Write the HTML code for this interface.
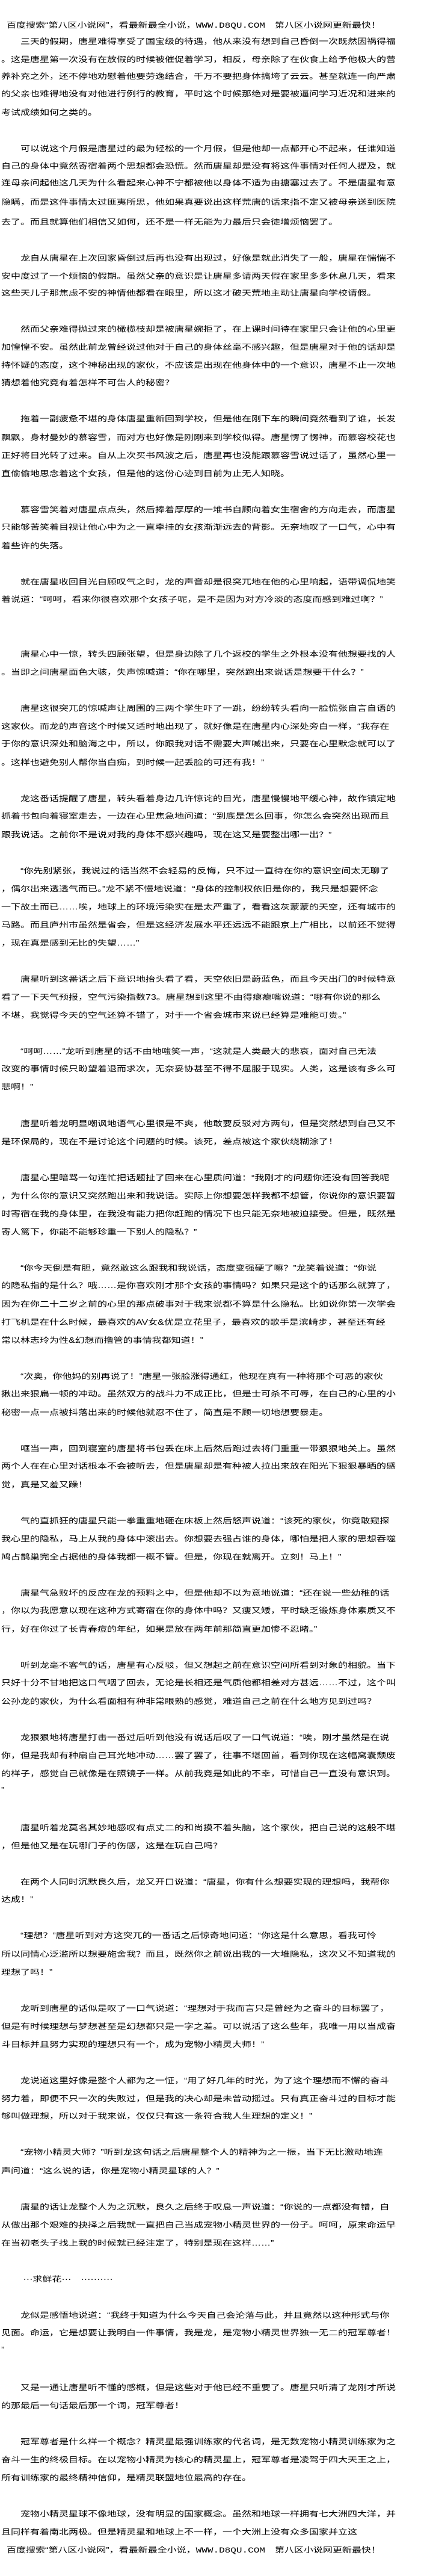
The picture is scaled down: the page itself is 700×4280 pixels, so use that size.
<!DOCTYPE html>
<html lang="zh-CN"><head><meta charset="utf-8">
<style>
html,body{margin:0;padding:0;background:#fff;}
body{width:700px;height:4280px;position:relative;overflow:hidden;}
.l{position:absolute;left:2px;height:30px;line-height:30px;font-size:16px;color:#000;white-space:nowrap;
font-family:"Liberation Sans","Noto Sans CJK SC","WenQuanYi Zen Hei",sans-serif;transform:scaleY(0.78);transform-origin:0 50%;}
.h{left:11px;}
.m{font-family:"Liberation Mono",monospace;}
</style></head><body>
<div class="l h" style="top:28px">百度搜索“第八区小说网”，看最新最全小说，<span class="m">WWW.D8QU.COM</span>　第八区小说网更新最快！</div>
<div class="l" style="top:55px">　　三天的假期，唐星难得享受了国宝级的待遇，他从来没有想到自己昏倒一次既然因祸得福</div>
<div class="l" style="top:85px">。这是唐星第一次没有在放假的时候被催促着学习，相反，母亲除了在伙食上给予他极大的营</div>
<div class="l" style="top:113px">养补充之外，还不停地劝慰着他要劳逸结合，千万不要把身体搞垮了云云。甚至就连一向严肃</div>
<div class="l" style="top:142px">的父亲也难得地没有对他进行例行的教育，平时这个时候那绝对是要被逼问学习近况和进来的</div>
<div class="l" style="top:173px">考试成绩如何之类的。</div>
<div class="l" style="top:233px">　　可以说这个月假是唐星过的最为轻松的一个月假，但是他却一点都开心不起来，任谁知道</div>
<div class="l" style="top:262px">自己的身体中竟然寄宿着两个思想都会恐慌。然而唐星却是没有将这件事情对任何人提及，就</div>
<div class="l" style="top:290px">连母亲问起他这几天为什么看起来心神不宁都被他以身体不适为由搪塞过去了。不是唐星有意</div>
<div class="l" style="top:322px">隐瞒，而是这件事情太过匪夷所思，他如果真要说出这样荒唐的话来指不定又被母亲送到医院</div>
<div class="l" style="top:355px">去了。而且就算他们相信又如何，还不是一样无能为力最后只会徒增烦恼罢了。</div>
<div class="l" style="top:415px">　　龙自从唐星在上次回家昏倒过后再也没有出现过，好像是就此消失了一般，唐星在惴惴不</div>
<div class="l" style="top:445px">安中度过了一个烦恼的假期。虽然父亲的意识是让唐星多请两天假在家里多多休息几天，看来</div>
<div class="l" style="top:473px">这些天儿子那焦虑不安的神情他都看在眼里，所以这才破天荒地主动让唐星向学校请假。</div>
<div class="l" style="top:533px">　　然而父亲难得抛过来的橄榄枝却是被唐星婉拒了，在上课时间待在家里只会让他的心里更</div>
<div class="l" style="top:563px">加惶惶不安。虽然此前龙曾经说过他对于自己的身体丝毫不感兴趣，但是唐星对于他的话却是</div>
<div class="l" style="top:593px">持怀疑的态度，这个神秘出现的家伙，不应该是出现在他身体中的一个意识，唐星不止一次地</div>
<div class="l" style="top:622px">猜想着他究竟有着怎样不可告人的秘密？</div>
<div class="l" style="top:682px">　　拖着一副疲惫不堪的身体唐星重新回到学校，但是他在刚下车的瞬间竟然看到了谁，长发</div>
<div class="l" style="top:713px">飘飘，身材曼妙的慕容雪，而对方也好像是刚刚来到学校似得。唐星愣了愣神，而慕容校花也</div>
<div class="l" style="top:743px">正好将目光转了过来。自从上次买书风波之后，唐星再也没能跟慕容雪说过话了，虽然心里一</div>
<div class="l" style="top:773px">直偷偷地思念着这个女孩，但是他的这份心迹到目前为止无人知晓。</div>
<div class="l" style="top:833px">　　慕容雪笑着对唐星点点头，然后捧着厚厚的一堆书自顾向着女生宿舍的方向走去，而唐星</div>
<div class="l" style="top:862px">只能够苦笑着目视让他心中为之一直牵挂的女孩渐渐远去的背影。无奈地叹了一口气，心中有</div>
<div class="l" style="top:893px">着些许的失落。</div>
<div class="l" style="top:953px">　　就在唐星收回目光自顾叹气之时，龙的声音却是很突兀地在他的心里响起，语带调侃地笑</div>
<div class="l" style="top:982px">着说道：“呵呵，看来你很喜欢那个女孩子呢，是不是因为对方冷淡的态度而感到难过啊？”</div>
<div class="l" style="top:1073px">　　唐星心中一惊，转头四顾张望，但是身边除了几个返校的学生之外根本没有他想要找的人</div>
<div class="l" style="top:1103px">。当即之间唐星面色大骇，失声惊喊道：“你在哪里，突然跑出来说话是想要干什么？”</div>
<div class="l" style="top:1163px">　　唐星这很突兀的惊喊声让周围的三两个学生吓了一跳，纷纷转头看向一脸慌张自言自语的</div>
<div class="l" style="top:1193px">这家伙。而龙的声音这个时候又适时地出现了，就好像是在唐星内心深处旁白一样，“我存在</div>
<div class="l" style="top:1222px">于你的意识深处和脑海之中，所以，你跟我对话不需要大声喊出来，只要在心里默念就可以了</div>
<div class="l" style="top:1253px">。这样也避免别人帮你当白痴，到时候一起丢脸的可还有我！”</div>
<div class="l" style="top:1313px">　　龙这番话提醒了唐星，转头看着身边几许惊诧的目光，唐星慢慢地平缓心神，故作镇定地</div>
<div class="l" style="top:1342px">抓着书包向着寝室走去，一边在心里焦急地问道：“到底是怎么回事，你怎么会突然出现而且</div>
<div class="l" style="top:1373px">跟我说话。之前你不是说对我的身体不感兴趣吗，现在这又是要整出哪一出？”</div>
<div class="l" style="top:1433px">　　“你先别紧张，我说过的话当然不会轻易的反悔，只不过一直待在你的意识空间太无聊了</div>
<div class="l" style="top:1463px">，偶尔出来透透气而已。”龙不紧不慢地说道：“身体的控制权依旧是你的，我只是想要怀念</div>
<div class="l" style="top:1493px">一下故土而已……唉，地球上的环境污染实在是太严重了，看看这灰蒙蒙的天空，还有城市的</div>
<div class="l" style="top:1523px">马路。而且庐州市虽然是省会，但是这经济发展水平还远远不能跟京上广相比，以前还不觉得</div>
<div class="l" style="top:1553px">，现在真是感到无比的失望……”</div>
<div class="l" style="top:1613px">　　唐星听到这番话之后下意识地抬头看了看，天空依旧是蔚蓝色，而且今天出门的时候特意</div>
<div class="l" style="top:1643px">看了一下天气预报，空气污染指数73。唐星想到这里不由得瘪瘪嘴说道：“哪有你说的那么</div>
<div class="l" style="top:1673px">不堪，我觉得今天的空气还算不错了，对于一个省会城市来说已经算是难能可贵。”</div>
<div class="l" style="top:1733px">　　“呵呵……”龙听到唐星的话不由地嗤笑一声，“这就是人类最大的悲哀，面对自己无法</div>
<div class="l" style="top:1762px">改变的事情时候只盼望着退而求次，无奈妥协甚至不得不屈服于现实。人类，这是该有多么可</div>
<div class="l" style="top:1792px">悲啊！”</div>
<div class="l" style="top:1853px">　　唐星听着龙明显嘲讽地语气心里很是不爽，他敢要反驳对方两句，但是突然想到自己又不</div>
<div class="l" style="top:1883px">是环保局的，现在不是讨论这个问题的时候。该死，差点被这个家伙绕糊涂了！</div>
<div class="l" style="top:1943px">　　唐星心里暗骂一句连忙把话题扯了回来在心里质问道：“我刚才的问题你还没有回答我呢</div>
<div class="l" style="top:1973px">，为什么你的意识又突然跑出来和我说话。实际上你想要怎样我都不想管，你说你的意识要暂</div>
<div class="l" style="top:2003px">时寄宿在我的身体里，在我没有能力把你赶跑的情况下也只能无奈地被迫接受。但是，既然是</div>
<div class="l" style="top:2033px">寄人篱下，你能不能够珍重一下别人的隐私？”</div>
<div class="l" style="top:2093px">　　“你今天倒是有胆，竟然敢这么跟我和我说话，态度变强硬了嘛？”龙笑着说道：“你说</div>
<div class="l" style="top:2122px">的隐私指的是什么？哦……是你喜欢刚才那个女孩的事情吗？如果只是这个的话那么就算了，</div>
<div class="l" style="top:2153px">因为在你二十二岁之前的心里的那点破事对于我来说都不算是什么隐私。比如说你第一次学会</div>
<div class="l" style="top:2183px">打飞机是在什么时候，最喜欢的AV女&amp;优是立花里子，最喜欢的歌手是滨崎步，甚至还有经</div>
<div class="l" style="top:2213px">常以林志玲为性&amp;幻想而撸管的事情我都知道！”</div>
<div class="l" style="top:2273px">　　“次奥，你他妈的别再说了！”唐星一张脸涨得通红，他现在真有一种将那个可恶的家伙</div>
<div class="l" style="top:2302px">揪出来狠扁一顿的冲动。虽然双方的战斗力不成正比，但是士可杀不可辱，在自己的心里的小</div>
<div class="l" style="top:2333px">秘密一点一点被抖落出来的时候他就忍不住了，简直是不顾一切地想要暴走。</div>
<div class="l" style="top:2393px">　　哐当一声，回到寝室的唐星将书包丢在床上后然后跑过去将门重重一带狠狠地关上。虽然</div>
<div class="l" style="top:2422px">两个人在在心里对话根本不会被听去，但是唐星却是有种被人拉出来放在阳光下狠狠暴晒的感</div>
<div class="l" style="top:2453px">觉，真是又羞又躁！</div>
<div class="l" style="top:2513px">　　气的直抓狂的唐星只能一拳重重地砸在床板上然后怒声说道：“该死的家伙，你竟敢窥探</div>
<div class="l" style="top:2543px">我心里的隐私，马上从我的身体中滚出去。你想要去强占谁的身体，哪怕是把人家的思想吞噬</div>
<div class="l" style="top:2573px">鸠占鹊巢完全占据他的身体我都一概不管。但是，你现在就离开。立刻！马上！”</div>
<div class="l" style="top:2633px">　　唐星气急败坏的反应在龙的预料之中，但是他却不以为意地说道：“还在说一些幼稚的话</div>
<div class="l" style="top:2662px">，你以为我愿意以现在这种方式寄宿在你的身体中吗？又瘦又矮，平时缺乏锻炼身体素质又不</div>
<div class="l" style="top:2693px">行，好在你过了长青春痘的年纪，如果是放在两年前那简直更加惨不忍睹。”</div>
<div class="l" style="top:2753px">　　听到龙毫不客气的话，唐星有心反驳，但又想起之前在意识空间所看到对象的相貌。当下</div>
<div class="l" style="top:2782px">只好十分不甘地把这口气咽了回去，无论是长相还是气质他都相差对方甚远……不过，这个叫</div>
<div class="l" style="top:2813px">公孙龙的家伙，为什么看面相有种非常眼熟的感觉，难道自己之前在什么地方见到过吗？</div>
<div class="l" style="top:2873px">　　龙狠狠地将唐星打击一番过后听到他没有说话后叹了一口气说道：“唉，刚才虽然是在说</div>
<div class="l" style="top:2903px">你，但是我却有种扇自己耳光地冲动……罢了罢了，往事不堪回首，看到你现在这幅窝囊颓废</div>
<div class="l" style="top:2933px">的样子，感觉自己就像是在照镜子一样。从前我竟是如此的不幸，可惜自己一直没有意识到。</div>
<div class="l" style="top:2960px">”</div>
<div class="l" style="top:3023px">　　唐星听着龙莫名其妙地感叹有点丈二的和尚摸不着头脑，这个家伙，把自己说的这般不堪</div>
<div class="l" style="top:3053px">，但是他又是在玩哪门子的伤感，这是在玩自己吗？</div>
<div class="l" style="top:3113px">　　在两个人同时沉默良久后，龙又开口说道：“唐星，你有什么想要实现的理想吗，我帮你</div>
<div class="l" style="top:3142px">达成！”</div>
<div class="l" style="top:3202px">　　“理想？”唐星听到对方这突兀的一番话之后惊奇地问道：“你这是什么意思，看我可怜</div>
<div class="l" style="top:3233px">所以同情心泛滥所以想要施舍我？而且，既然你之前说出我的一大堆隐私，这次又不知道我的</div>
<div class="l" style="top:3263px">理想了吗！”</div>
<div class="l" style="top:3323px">　　龙听到唐星的话似是叹了一口气说道：“理想对于我而言只是曾经为之奋斗的目标罢了，</div>
<div class="l" style="top:3353px">但是有时候理想与梦想甚至是幻想都只是一字之差。可以说活了这么些年，我唯一用以当成奋</div>
<div class="l" style="top:3383px">斗目标并且努力实现的理想只有一个，成为宠物小精灵大师！”</div>
<div class="l" style="top:3443px">　　龙说道这里好像是整个人都为之一怔，“用了好几年的时光，为了这个理想而不懈的奋斗</div>
<div class="l" style="top:3473px">努力着，即便不只一次的失败过，但是我的决心却是未曾动摇过。只有真正奋斗过的目标才能</div>
<div class="l" style="top:3502px">够叫做理想，所以对于我来说，仅仅只有这一条符合我人生理想的定义！”</div>
<div class="l" style="top:3562px">　　“宠物小精灵大师？”听到龙这句话之后唐星整个人的精神为之一振，当下无比激动地连</div>
<div class="l" style="top:3593px">声问道：“这么说的话，你是宠物小精灵星球的人？”</div>
<div class="l" style="top:3653px">　　唐星的话让龙整个人为之沉默，良久之后终于叹息一声说道：“你说的一点都没有错，自</div>
<div class="l" style="top:3683px">从做出那个艰难的抉择之后我就一直把自己当成宠物小精灵世界的一份子。呵呵，原来命运早</div>
<div class="l" style="top:3713px">在当初老头子找上我的时候就已经注定了，特别是现在这样……”</div>
<div class="l" style="top:3773px">　　 ···求鲜花···　··········</div>
<div class="l" style="top:3833px">　　龙似是感悟地说道：“我终于知道为什么今天自己会沦落与此，并且竟然以这种形式与你</div>
<div class="l" style="top:3862px">见面。命运，它是想要让我明白一件事情，我是龙，是宠物小精灵世界独一无二的冠军尊者！</div>
<div class="l" style="top:3890px">”</div>
<div class="l" style="top:3953px">　　又是一通让唐星听不懂的感概，但是这些对于他已经不重要了。唐星只听清了龙刚才所说</div>
<div class="l" style="top:3983px">的那最后一句话最后那一个词，冠军尊者！</div>
<div class="l" style="top:4043px">　　冠军尊者是什么样一个概念？精灵星最强训练家的代名词，是无数宠物小精灵训练家为之</div>
<div class="l" style="top:4073px">奋斗一生的终极目标。在以宠物小精灵为核心的精灵星上，冠军尊者是凌驾于四大天王之上，</div>
<div class="l" style="top:4103px">所有训练家的最终精神信仰，是精灵联盟地位最高的存在。</div>
<div class="l" style="top:4163px">　　宠物小精灵星球不像地球，没有明显的国家概念。虽然和地球一样拥有七大洲四大洋，并</div>
<div class="l" style="top:4193px">且同样有着南北两极。但是精灵星和地球上不一样，一个大洲上没有众多国家并立这</div>
<div class="l h" style="top:4223px">百度搜索“第八区小说网”，看最新最全小说，<span class="m">WWW.D8QU.COM</span>　第八区小说网更新最快！</div>
</body></html>
